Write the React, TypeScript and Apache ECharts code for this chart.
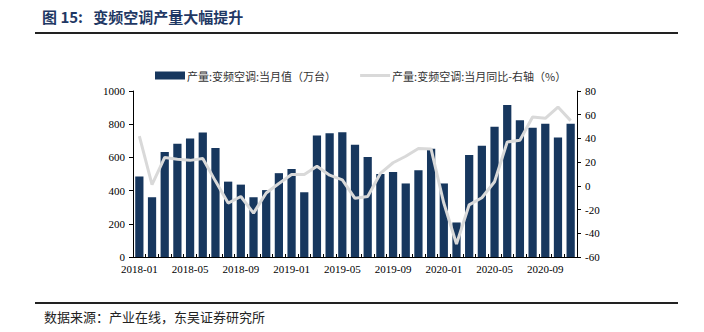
import React, { useEffect, useRef } from "react";
import * as echarts from "echarts";

const months: string[] = [
  "2018-01","2018-02","2018-03","2018-04","2018-05","2018-06","2018-07","2018-08","2018-09","2018-10","2018-11","2018-12",
  "2019-01","2019-02","2019-03","2019-04","2019-05","2019-06","2019-07","2019-08","2019-09","2019-10","2019-11","2019-12",
  "2020-01","2020-02","2020-03","2020-04","2020-05","2020-06","2020-07","2020-08","2020-09","2020-10","2020-11",
];

const output: number[] = [
  485, 360, 632, 682, 714, 750, 656, 454, 436, 360, 403, 505,
  530, 390, 732, 746, 752, 676, 602, 500, 512, 443, 522, 652,
  443, 208, 614, 670, 784, 916, 824, 778, 802, 720, 803,
];

const yoy: number[] = [
  42, 1, 24, 22.5, 21.5, 23, 4, -14.5, -9, -23, -6, 2,
  9.5, 9.5, 16.5, 9, 5, -10.5, -9, 10.5, 19.5, 25, 31.5, 31,
  -14.5, -49, -16, -10, 3.5, 37, 38.5, 58, 57, 66.5, 55,
];

const seriesNames: string[] = [
  "产量:变频空调:当月值（万台）",
  "产量:变频空调:当月同比-右轴（%）",
];

const titleText = "图\u00a015:\u00a0\u00a0\u00a0变频空调产量大幅提升";
const sourceText = "数据来源：产业在线，东吴证券研究所";

export default function App() {
  const ref = useRef<HTMLDivElement>(null);
  useEffect(() => {
    if (!ref.current) return;
    const chart = echarts.init(ref.current, undefined, { renderer: "svg" });
    const axisFont = { fontFamily: "Liberation Serif", fontSize: 11, color: "#000" };
    chart.setOption({
      animation: false,
      backgroundColor: "#fff",
      graphic: [
        {
          type: "text",
          left: 42,
          top: 9,
          style: {
            text: titleText,
            font: "bold 15px 'Noto Sans CJK SC'",
            fill: "#1F3864",
          },
        },
        {
          type: "line",
          shape: { x1: 35, y1: 33, x2: 678, y2: 33 },
          style: { stroke: "#222", lineWidth: 2 },
        },
        {
          type: "line",
          shape: { x1: 35, y1: 303, x2: 678, y2: 303 },
          style: { stroke: "#222", lineWidth: 2 },
        },
        {
          type: "text",
          left: 44,
          top: 310,
          style: {
            text: sourceText,
            font: "13px 'Noto Sans CJK SC'",
            fill: "#222",
          },
        },
      ],
      legend: {
        top: 65,
        left: 150,
        itemWidth: 30,
        itemHeight: 8,
        itemGap: 24,
        textStyle: { fontFamily: "Noto Sans CJK SC", fontSize: 11, color: "#333", padding: [0, 0, 0, -3] },
        data: [
          { name: seriesNames[0], icon: "rect" },
          { name: seriesNames[1], icon: "path://M0,0H30V3H0Z", itemStyle: { color: "#D9D9D9" } },
        ],
      },
      grid: { left: 133, right: 127, top: 91, bottom: 75 },
      xAxis: {
        type: "category",
        data: months,
        boundaryGap: true,
        axisLine: { lineStyle: { color: "#000", width: 1 } },
        axisTick: { show: true, inside: true, length: 3, interval: 0, lineStyle: { color: "#000" } },
        axisLabel: { ...axisFont, interval: 3, margin: 6 },
      },
      yAxis: [
        {
          type: "value",
          min: 0,
          max: 1000,
          interval: 200,
          splitLine: { show: false },
          axisLine: { show: true, lineStyle: { color: "#000" } },
          axisTick: { show: true, length: 4, lineStyle: { color: "#000" } },
          axisLabel: { ...axisFont, margin: 8, formatter: (v: number) => String(v) },
        },
        {
          type: "value",
          min: -60,
          max: 80,
          interval: 20,
          splitLine: { show: false },
          axisLine: { show: true, lineStyle: { color: "#000" } },
          axisTick: { show: true, length: 4, lineStyle: { color: "#000" } },
          axisLabel: { ...axisFont, margin: 8, formatter: (v: number) => String(v) },
        },
      ],
      series: [
        {
          name: seriesNames[0],
          type: "bar",
          data: output,
          barCategoryGap: "35%",
          itemStyle: { color: "#17375E" },
        },
        {
          name: seriesNames[1],
          type: "line",
          yAxisIndex: 1,
          data: yoy,
          symbol: "none",
          lineStyle: { color: "#D9D9D9", width: 3 },
          itemStyle: { color: "#D9D9D9" },
        },
      ],
    });
    return () => chart.dispose();
  }, []);
  return (
    <div
      ref={ref}
      style={{ position: "fixed", left: 0, top: 0, width: 704, height: 332 }}
    />
  );
}
